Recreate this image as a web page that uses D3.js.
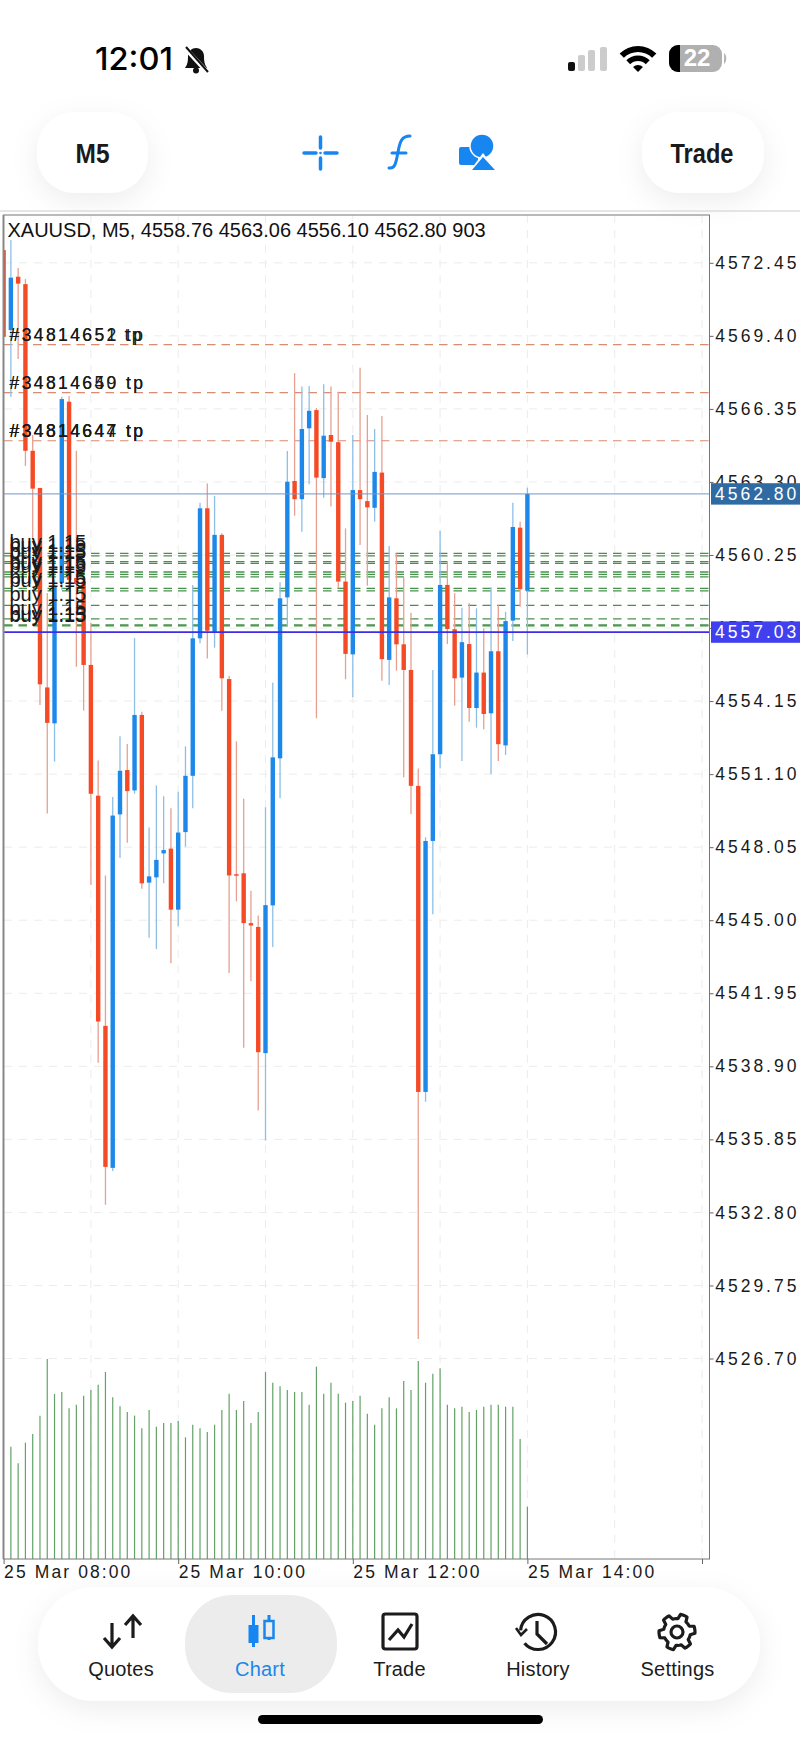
<!DOCTYPE html>
<meta charset="utf-8">
<head>
  <style>
    html, body { margin: 0; padding: 0; background: #fff; }
    svg { display: block; }
    text { font-family: "Liberation Sans", sans-serif; }
    .axis text { font-size: 17.5px; letter-spacing: 3px; fill: #1a1a1a; }
    .axis line { stroke: #666; }
    .axis path { display: none; }
  </style>
  <script src="https://cdn.jsdelivr.net/npm/d3@7"></script>
</head>
<body>
<script>
  const symbolLine = "XAUUSD, M5, 4558.76 4563.06 4556.10 4562.80 903";

  // bar 0 is 25 Mar 08:00, one bar every 5 minutes
  const opens = [4572.98,4569.64,4571.87,4571.56,4564.60,4563.05,4554.72,4553.22,4559.08,4566.65,4559.29,4559.14,4555.66,4550.20,4540.59,4534.66,4549.42,4551.27,4550.42,4553.57,4546.57,4546.79,4547.79,4547.99,4545.44,4548.68,4551.03,4556.77,4562.20,4557.01,4561.09,4555.07,4546.92,4546.96,4544.88,4544.72,4539.45,4545.62,4551.76,4558.48,4563.34,4562.58,4565.54,4566.30,4563.46,4565.26,4564.96,4559.14,4556.10,4562.96,4562.50,4562.22,4563.69,4555.87,4558.44,4556.52,4555.45,4550.61,4537.83,4548.31,4551.93,4559.00,4557.15,4555.13,4556.53,4553.86,4555.34,4553.64,4556.23,4552.30,4557.51,4561.39,4558.76];
  const highs = [4572.98,4573.40,4572.23,4571.77,4565.26,4563.05,4558.66,4559.21,4566.86,4566.89,4564.60,4559.41,4557.41,4551.67,4546.87,4550.15,4552.68,4552.36,4556.78,4553.70,4548.87,4550.63,4550.18,4549.67,4550.36,4552.26,4559.00,4562.43,4563.24,4562.71,4561.16,4555.21,4552.47,4550.07,4546.23,4545.20,4549.72,4554.92,4559.11,4564.59,4567.84,4567.28,4567.31,4566.39,4567.38,4567.28,4567.07,4561.36,4565.26,4568.07,4566.10,4565.51,4566.05,4560.63,4560.32,4559.32,4557.84,4551.34,4548.46,4555.45,4561.26,4559.97,4558.65,4558.05,4558.23,4558.02,4557.19,4558.90,4558.16,4557.88,4562.43,4561.64,4563.06];
  const lows = [4569.36,4566.85,4568.43,4563.97,4560.88,4553.99,4549.46,4551.62,4558.79,4558.79,4555.58,4553.75,4546.47,4539.05,4533.12,4534.53,4547.60,4548.23,4550.28,4546.31,4544.27,4543.79,4546.54,4543.20,4544.75,4548.07,4549.67,4556.56,4555.93,4556.38,4553.75,4542.80,4545.79,4539.68,4542.45,4537.05,4535.80,4543.88,4550.09,4557.26,4561.89,4561.22,4563.20,4553.43,4562.64,4562.27,4558.86,4555.06,4554.31,4560.67,4558.97,4561.64,4555.00,4554.82,4555.42,4550.97,4549.44,4527.51,4537.42,4545.25,4551.34,4556.53,4553.95,4551.65,4553.29,4553.04,4552.97,4551.09,4551.65,4551.90,4556.66,4558.09,4556.10];
  const closes = [4569.36,4571.83,4571.58,4564.60,4563.02,4554.85,4553.24,4558.93,4566.76,4559.21,4559.04,4555.66,4550.28,4540.77,4534.70,4549.37,4551.24,4550.39,4553.57,4546.54,4546.83,4547.52,4547.93,4545.44,4548.66,4551.03,4556.77,4562.20,4557.09,4561.09,4555.10,4546.87,4546.87,4544.88,4544.78,4539.49,4545.63,4551.80,4558.44,4563.31,4562.58,4565.51,4566.27,4563.48,4565.23,4564.98,4559.14,4556.12,4562.96,4562.58,4562.24,4563.72,4555.90,4558.48,4556.52,4555.45,4550.61,4537.83,4548.31,4551.93,4559.00,4557.16,4555.10,4556.61,4553.86,4555.34,4553.61,4556.23,4552.35,4557.49,4561.42,4558.82,4562.80];
  // volumes start at bar 1, bar 0 sits under the frame
  const volumes = [1940,1652,2009,2159,2476,3454,2850,2884,2602,2665,2821,2919,3011,3230,2792,2637,2539,2476,2257,2573,2286,2349,2349,2383,2101,2320,2257,2193,2320,2573,2855,2573,2729,2349,2539,3230,3045,2982,2919,2884,2884,2665,3322,2855,3045,2855,2700,2729,2821,2510,2320,2602,2792,2602,3074,2919,3420,3045,3201,3293,2665,2602,2631,2539,2573,2631,2665,2665,2631,2631,2073,903];

  const priceTicks = [4572.45,4569.40,4566.35,4563.30,4560.25,4557.20,4554.15,4551.10,4548.05,4545.00,4541.95,4538.90,4535.85,4532.80,4529.75,4526.70];
  const timeTicks = [0,24,48,72,96];
  const timeLabels = ["25 Mar 08:00","25 Mar 10:00","25 Mar 12:00","25 Mar 14:00",""];
  const gridBars = [12,24,36,48,60,72,84,96];

  const tpLevels = [4569.03,4567.03,4565.02];
  const tpLabels = [
    ["#34814652 tp","#34814651\u2009tp"],
    ["#34814650 tp","#34814649 tp"],
    ["#34814644 tp","#34814647 tp","#34814647 tp"]
  ];
  const buyLevels = [4560.32,4560.21,4559.97,4559.90,4559.54,4559.44,4559.34,4558.86,4558.75,4558.15,4557.58,4557.33,4557.29];
  const buyLabel = "buy 1.15";
  const lastPrice = 4562.80;
  const alertPrice = 4557.03;

  const navItems = ["Quotes","Chart","Trade","History","Settings"];
  const navX = [121,260,399.5,538,677.5];

  const W = 800, H = 1739;
  const plotRight = 709.5, plotTop = 215, plotBottom = 1559;
  const red = "#f44a26", blue = "#1d88ea";

  const x = d3.scaleLinear().domain([0,96]).range([3.6,702]);
  const y = d3.scaleLinear().domain([4526.70,4572.45]).range([1358.5,262.8]);
  const yVol = d3.scaleLinear().domain([0,3454]).range([1559,1359]);

  const svg = d3.select("body").append("svg")
    .attr("width", W)
    .attr("height", H)
    .attr("viewBox", `0 0 ${W} ${H}`);

  const defs = svg.append("defs");
  const shadow = defs.append("filter").attr("id", "soft")
    .attr("x", "-30%").attr("y", "-30%").attr("width", "160%").attr("height", "170%");
  shadow.append("feDropShadow")
    .attr("dx", 0).attr("dy", 8).attr("stdDeviation", 14)
    .attr("flood-color", "#000").attr("flood-opacity", 0.07);
  defs.append("clipPath").attr("id", "plot").append("rect")
    .attr("x", 4).attr("y", plotTop).attr("width", plotRight - 4).attr("height", plotBottom - plotTop);

  // status bar
  svg.append("text").attr("x", 95).attr("y", 70).attr("textLength", 78).attr("lengthAdjust", "spacingAndGlyphs")
    .style("font-family", "Inter").style("font-size", "31px").style("font-weight", 500).attr("fill", "#000").text("12:01");
  const bell = svg.append("g").attr("transform", "translate(196,60)");
  bell.append("path").attr("d", "M-11,8 C-8,4 -8,0 -8,-4 C-8,-9 -4,-12 0,-12 C4,-12 8,-9 8,-4 C8,0 8,4 11,8 Z").attr("fill", "#111");
  bell.append("circle").attr("cy", 10.5).attr("r", 3).attr("fill", "#111");
  bell.append("line").attr("x1", -11).attr("y1", -12).attr("x2", 12).attr("y2", 13).attr("stroke", "#fff").attr("stroke-width", 4.5);
  bell.append("line").attr("x1", -10).attr("y1", -13).attr("x2", 12).attr("y2", 12).attr("stroke", "#111").attr("stroke-width", 2);

  const signal = [[568,62,"#111"],[578,55,"#ccc"],[588,50,"#ccc"],[600,47,"#ccc"]];
  svg.selectAll(".sig").data(signal).join("rect").attr("class", "sig")
    .attr("x", d => d[0]).attr("y", d => d[1]).attr("width", 7).attr("height", d => 71 - d[1])
    .attr("rx", 2).attr("fill", d => d[2]);

  const wifi = svg.append("g").attr("transform", "translate(638,72)");
  [[0,7],[11,16.5],[20,26]].forEach(r => {
    wifi.append("path").attr("fill", "#000")
      .attr("d", d3.arc().innerRadius(r[0]).outerRadius(r[1]).startAngle(-Math.PI/4).endAngle(Math.PI/4)());
  });

  svg.append("rect").attr("x", 669).attr("y", 45).attr("width", 53).attr("height", 27).attr("rx", 9).attr("fill", "#b0b0b0");
  svg.append("path").attr("d", "M678,45 H680 V72 H678 A9,9 0 0 1 669,63 V54 A9,9 0 0 1 678,45 Z").attr("fill", "#000");
  svg.append("path").attr("d", "M724,53 C727,55 727,62 724,64 Z").attr("fill", "#b5b5b5");
  svg.append("text").attr("x", 697).attr("y", 66).attr("text-anchor", "middle")
    .style("font-size", "24px").style("font-weight", 700).attr("fill", "#fff").text("22");

  // toolbar
  [[37,111],[642,122]].forEach(b => {
    svg.append("rect").attr("x", b[0]).attr("y", 112).attr("width", b[1]).attr("height", 81).attr("rx", 38)
      .attr("fill", "#fff").attr("filter", "url(#soft)");
  });
  svg.append("text").attr("x", 92.5).attr("y", 163).attr("text-anchor", "middle").attr("textLength", 34).attr("lengthAdjust", "spacingAndGlyphs")
    .style("font-size", "27px").style("font-weight", 700).attr("fill", "#1a1a1a").text("M5");
  svg.append("text").attr("x", 702).attr("y", 163).attr("text-anchor", "middle").attr("textLength", 63).attr("lengthAdjust", "spacingAndGlyphs")
    .style("font-size", "27px").style("font-weight", 700).attr("fill", "#1a1a1a").text("Trade");

  const tool = svg.append("g").attr("stroke", "#1786f0").attr("fill", "none").attr("stroke-width", 3.5).attr("stroke-linecap", "round");
  tool.append("path").attr("d", "M304,153 H316 M325,153 H337 M320.5,137 V148 M320.5,158 V169");
  tool.append("circle").attr("cx", 320.5).attr("cy", 153).attr("r", 0.6).attr("stroke-width", 1.5);
  tool.append("path").attr("d", "M389,168 C395,169 396,163 398,152 C400,141 402,136 410,136 M392,153 H406").attr("stroke-width", 3);
  svg.append("rect").attr("x", 459).attr("y", 147).attr("width", 19).attr("height", 18).attr("rx", 2).attr("fill", "#1786f0");
  svg.append("circle").attr("cx", 482).attr("cy", 146).attr("r", 12).attr("fill", "#1786f0").attr("stroke", "#fff").attr("stroke-width", 1.5);
  svg.append("path").attr("d", "M483,153 L497,172 H469 Z").attr("fill", "#fff");
  svg.append("path").attr("d", "M483,157 L495,170 H472 Z").attr("fill", "#1786f0");

  svg.append("line").attr("x1", 0).attr("x2", W).attr("y1", 211).attr("y2", 211).attr("stroke", "#ccc").attr("stroke-width", 1);

  // grid
  const grid = svg.append("g").attr("stroke", "#ececec").attr("stroke-width", 1).attr("stroke-dasharray", "8,7");
  grid.selectAll(".h").data(priceTicks).join("line").attr("class", "h")
    .attr("x1", 4).attr("x2", plotRight).attr("y1", d => y(d)).attr("y2", d => y(d));
  grid.selectAll(".v").data(gridBars).join("line").attr("class", "v")
    .attr("x1", d => x(d)).attr("x2", d => x(d)).attr("y1", plotTop).attr("y2", plotBottom);

  // order lines
  const orders = svg.append("g").attr("clip-path", "url(#plot)");
  orders.selectAll(".tp").data(tpLevels).join("line").attr("class", "tp")
    .attr("x1", 4).attr("x2", plotRight).attr("y1", d => y(d)).attr("y2", d => y(d))
    .attr("stroke", "#dd8a72").attr("stroke-width", 1.2).attr("stroke-dasharray", "8.5,6");
  orders.selectAll(".buy").data(buyLevels).join("line").attr("class", "buy")
    .attr("x1", 4).attr("x2", plotRight).attr("y1", d => y(d)).attr("y2", d => y(d))
    .attr("stroke", "#1d7a22").attr("stroke-opacity", 0.82).attr("stroke-width", 1.3).attr("stroke-dasharray", "8.5,6");

  // candles
  const bars = d3.range(opens.length).map(i => ({i, o: opens[i], h: highs[i], l: lows[i], c: closes[i]}));
  const candles = svg.append("g").attr("clip-path", "url(#plot)");
  candles.selectAll(".wick").data(bars).join("line").attr("class", "wick")
    .attr("x1", d => x(d.i)).attr("x2", d => x(d.i))
    .attr("y1", d => y(d.h)).attr("y2", d => y(d.l))
    .attr("stroke", d => d.c >= d.o ? "#8dbfe6" : "#e6a090").attr("stroke-width", 1.3);
  candles.selectAll(".body").data(bars).join("rect").attr("class", "body")
    .attr("x", d => x(d.i) - 2.2).attr("width", 4.4)
    .attr("y", d => y(Math.max(d.o, d.c)))
    .attr("height", d => Math.max(1.5, Math.abs(y(d.o) - y(d.c))))
    .attr("fill", d => d.c >= d.o ? blue : red);

  // volumes
  svg.append("g").selectAll("line").data(volumes).join("line")
    .attr("x1", (d, i) => x(i + 1)).attr("x2", (d, i) => x(i + 1))
    .attr("y1", d => yVol(d)).attr("y2", yVol(0))
    .attr("stroke", "#62a266").attr("stroke-width", 1.2);

  // current price lines
  svg.append("line").attr("x1", 4).attr("x2", plotRight).attr("y1", y(lastPrice)).attr("y2", y(lastPrice))
    .attr("stroke", "#7397cc").attr("stroke-width", 1);
  svg.append("line").attr("x1", 4).attr("x2", plotRight).attr("y1", y(alertPrice)).attr("y2", y(alertPrice))
    .attr("stroke", "#3a2fe6").attr("stroke-width", 1.6);

  // order labels sit on top of the candles
  tpLevels.forEach((lv, k) => {
    tpLabels[k].forEach(t => {
      svg.append("text").attr("x", 9.5).attr("y", y(lv) - 4)
        .style("font-size", "17.5px").style("letter-spacing", "2.4px").attr("fill", "#1a1a1a").text(t);
    });
  });
  buyLevels.forEach(lv => {
    svg.append("text").attr("x", 9.5).attr("y", y(lv) - 4)
      .style("font-size", "20px").attr("fill", "#1a1a1a").text(buyLabel);
  });

  // frame and header text
  svg.append("rect").attr("x", 3.5).attr("y", plotTop).attr("width", plotRight - 3.5).attr("height", plotBottom - plotTop)
    .attr("fill", "none").attr("stroke", "#777").attr("stroke-width", 1);
  svg.append("line").attr("x1", 3.5).attr("x2", 3.5).attr("y1", plotTop).attr("y2", plotBottom).attr("stroke", "#888").attr("stroke-width", 2);
  svg.append("text").attr("x", 7.5).attr("y", 236.5).style("font-size", "20px").attr("fill", "#111").text(symbolLine);

  // axes
  const yAxis = d3.axisRight(y).tickValues(priceTicks).tickSize(4).tickPadding(1.7).tickFormat(d3.format(".2f"));
  svg.append("g").attr("class", "axis").attr("transform", `translate(${plotRight},0)`).call(yAxis);

  const xAxis = d3.axisBottom(x).tickValues(timeTicks).tickSize(5).tickFormat((d, i) => timeLabels[i]);
  const gx = svg.append("g").attr("class", "axis").attr("transform", `translate(0,${plotBottom})`).call(xAxis);
  gx.selectAll("text").attr("text-anchor", "start").attr("dy", null).attr("y", 19).style("letter-spacing", "2.1px");

  // price tags
  [[lastPrice,"#2f6aa3"],[alertPrice,"#4040ee"]].forEach(t => {
    svg.append("rect").attr("x", 711).attr("y", y(t[0]) - 10.7).attr("width", 89).attr("height", 21.4).attr("fill", t[1]);
    svg.append("text").attr("x", 715).attr("y", y(t[0]) + 6.3)
      .style("font-size", "17.5px").style("letter-spacing", "3px").attr("fill", "#fff").text(d3.format(".2f")(t[0]));
  });

  // bottom nav
  svg.append("rect").attr("x", 38).attr("y", 1587).attr("width", 722).attr("height", 114).attr("rx", 57)
    .attr("fill", "#fff").attr("filter", "url(#soft)");
  svg.append("rect").attr("x", 185).attr("y", 1595).attr("width", 152).attr("height", 98).attr("rx", 47).attr("fill", "#ececec");
  svg.selectAll(".nav").data(navItems).join("text").attr("class", "nav")
    .attr("x", (d, i) => navX[i]).attr("y", 1676).attr("text-anchor", "middle")
    .style("font-size", "20px").style("letter-spacing", "0.2px").attr("fill", (d, i) => i === 1 ? "#1c86ea" : "#1c1c1c").text(d => d);

  const ink = svg.append("g").attr("stroke", "#1c1c1c").attr("stroke-width", 3.2).attr("fill", "none");
  // quotes
  ink.append("path").attr("d", "M112,1623 V1646 M104,1638 L112,1647 L120,1638 M133,1638 V1617 M125,1625 L133,1616 L141,1625");
  // trade
  ink.append("rect").attr("x", 383).attr("y", 1614).attr("width", 34).attr("height", 35).attr("rx", 2.5);
  ink.append("path").attr("d", "M389,1640 L398,1630 L404,1637 L412,1624");
  // history
  const hist = ink.append("g").attr("transform", "translate(538,1632)");
  hist.append("path").attr("d", d3.arc().innerRadius(17.5).outerRadius(17.5).startAngle(-Math.PI * 0.47).endAngle(Math.PI * 1.28)());
  hist.append("path").attr("d", "M-1,-11 V2 L9,12");
  hist.append("path").attr("d", "M-22,-4 L-17,3 L-11,-3").attr("stroke-width", 2.6);
  // settings
  const gear = ink.append("g").attr("transform", "translate(677,1632)");
  const gearPts = d3.range(48).map(k => {
    const a = k / 48 * 2 * Math.PI;
    const r = (k % 8) < 4 ? 18 : 13.5;
    return [r * Math.sin(a + 0.2), -r * Math.cos(a + 0.2)];
  });
  gear.append("path").attr("d", d3.line()(gearPts) + "Z").attr("stroke-linejoin", "round");
  gear.append("circle").attr("r", 6);
  // chart
  const ci = svg.append("g").attr("stroke", "#1786f0").attr("stroke-width", 3).attr("fill", "none");
  ci.append("path").attr("d", "M253.5,1615 V1647 M269,1615 V1640");
  svg.append("rect").attr("x", 248.5).attr("y", 1625).attr("width", 10).attr("height", 18).attr("fill", "#1786f0");
  svg.append("rect").attr("x", 264.5).attr("y", 1621).attr("width", 9).attr("height", 17).attr("fill", "#ececec").attr("stroke", "#1786f0").attr("stroke-width", 2.5);

  svg.append("rect").attr("x", 258).attr("y", 1715).attr("width", 285).attr("height", 9).attr("rx", 4.5).attr("fill", "#000");
</script>
</body>
</html>
